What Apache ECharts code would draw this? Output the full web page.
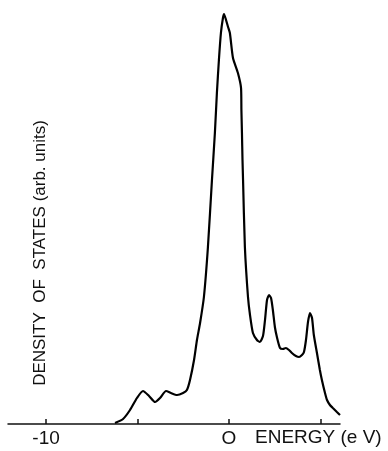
<!DOCTYPE html>
<html>
<head>
<meta charset="utf-8">
<script src="https://cdn.jsdelivr.net/npm/echarts@6/dist/echarts.min.js"></script>
<style>html,body{margin:0;padding:0;background:#fff;}#c{width:388px;height:451px;}</style>
</head>
<body>
<div id="c"></div>
<script>
// Energy (eV)
var energy = [-6.23,-5.79,-5.41,-5.03,-4.70,-4.37,-4.04,-3.77,-3.44,-3.17,-2.84,-2.51,-2.30,-2.13,-1.91,-1.75,-1.58,-1.37,-1.15,-0.93,-0.77,-0.66,-0.55,-0.44,-0.33,-0.27,-0.16,-0.05,0.05,0.22,0.49,0.66,0.68,0.71,0.74,0.77,0.87,1.04,1.15,1.31,1.53,1.69,1.86,1.97,2.08,2.19,2.30,2.40,2.51,2.62,2.79,2.95,3.11,3.28,3.44,3.66,3.83,3.99,4.10,4.21,4.32,4.43,4.54,4.64,4.81,4.97,5.08,5.25,5.36,5.52,5.68,5.90,6.07];
// Density of states (arb. units)
var dos = [1,5,14,26,33,28,22,26,33,31,29,31,34,44,64,84,101,127,177,244,291,331,364,391,406,410,404,397,391,366,351,336,314,291,264,244,177,127,109,91,84,82,88,104,124,129,126,114,97,87,76,75,76,74,71,68,67,69,72,84,102,111,106,89,71,54,44,31,24,19,16,12,9];
var tickValues = [-10,-5,0,5];
var labelValues = [-10,0];
var xLabel = 'ENERGY (e V)';
var yLabel = 'DENSITY  OF  STATES (arb. units)';

var chart = echarts.init(document.getElementById('c'));
var pts = energy.map(function(e,i){return [e,dos[i]];});
chart.setOption({
  animation:false,
  backgroundColor:'#fff',
  grid:{left:8,right:48,top:0,bottom:27},
  xAxis:{
    type:'value',min:-12.08,max:6.07,
    splitLine:{show:false},
    axisLine:{show:true,lineStyle:{color:'#111',width:1.5}},
    axisTick:{show:true,inside:true,length:5,lineStyle:{color:'#111',width:1.5},customValues:tickValues},
    axisLabel:{show:true,customValues:labelValues,margin:5,color:'#111',fontSize:19,fontFamily:'Liberation Sans, Arial, sans-serif',
      formatter:function(v){return v===0?'O':String(v).replace('-10','-10');}}
  },
  yAxis:{type:'value',min:0,max:424,show:false},
  series:[{type:'line',data:pts,showSymbol:false,smooth:0.2,clip:false,
    lineStyle:{color:'#000',width:2.2}}],
  graphic:[
    {type:'text',left:255,top:428,style:{text:xLabel,font:'19px Liberation Sans, Arial, sans-serif',fill:'#111'}},
    {type:'text',x:40,y:253,rotation:Math.PI/2,style:{text:yLabel,font:'17px Liberation Sans, Arial, sans-serif',fill:'#111',align:'center',verticalAlign:'middle'}}
  ]
});
</script>
</body>
</html>
